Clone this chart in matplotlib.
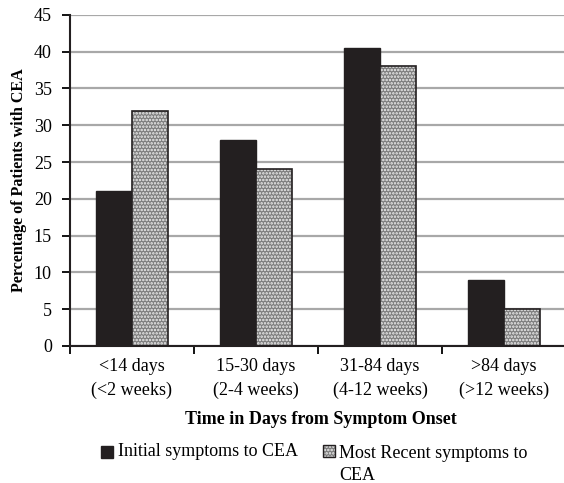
import numpy as np
import matplotlib.pyplot as plt
from matplotlib.patches import Rectangle

plt.rcParams['font.family'] = ['Liberation Serif', 'DejaVu Serif']
plt.rcParams['hatch.linewidth'] = 1.2

categories = ['<14 days\n(<2 weeks)', '15-30 days\n(2-4 weeks)',
              '31-84 days\n(4-12 weeks)', '>84 days\n(>12 weeks)']
initial = [21, 28, 40.5, 9]
recent = [32, 24, 38, 5]
series_names = ['Initial symptoms to CEA', 'Most Recent symptoms to\nCEA']

dark = '#231f20'
patt_face = '#7c7c7c'
patt_hatch = '.....'

x = np.arange(len(categories))
w = 0.29

fig = plt.figure(figsize=(5.64, 4.83), dpi=100)
ax = fig.add_axes([0.124, 0.284, 0.88, 0.685])

ax.set_axisbelow(True)
ax.yaxis.grid(True, color='#a8a8a8', linewidth=1.6)

ax.bar(x - w / 2, initial, w, color=dark, edgecolor=dark, linewidth=1)
# patterned bars: gray fill with white dot hatch, then dark outline on top
ax.bar(x + w / 2, recent, w, color=patt_face, edgecolor='#f0f0f0', hatch=patt_hatch, linewidth=0)
ax.bar(x + w / 2, recent, w, fill=False, edgecolor=dark, linewidth=1.2)

ax.set_xlim(-0.5, len(categories) - 0.5)
ax.set_ylim(0, 45)
ax.set_yticks(range(0, 46, 5))
ax.set_xticks(x)
ax.set_xticklabels(categories, fontsize=13, linespacing=1.45)
ax.set_xticks(np.arange(-0.5, len(categories) - 0.5, 1), minor=True)
ax.tick_params(axis='x', which='major', length=0, pad=9)
ax.tick_params(axis='x', which='minor', length=6, width=1.3, direction='out')
ax.tick_params(axis='y', length=6, width=1.3, direction='out', labelsize=13, pad=7)

for s in ['top', 'right']:
    ax.spines[s].set_visible(False)
for s in ['left', 'bottom']:
    ax.spines[s].set_linewidth(1.5)
    ax.spines[s].set_color(dark)

ax.set_ylabel('Percentage of Patients with CEA', fontsize=11.5, fontweight='bold', labelpad=5)
fig.text(321 / 564, 1 - 420 / 483, 'Time in Days from Symptom Onset', fontsize=13,
         fontweight='bold', ha='center', va='center')

# legend drawn by hand to keep the square level with the first text line
fs = 13
sq = 12 / 564
fig.patches.append(Rectangle((101 / 564, 1 - 458 / 483), sq, 12 / 483,
                             transform=fig.transFigure, facecolor=dark, edgecolor=dark))
fig.text(118 / 564, 1 - 452 / 483, series_names[0], fontsize=fs, va='center', ha='left')
fig.patches.append(Rectangle((323 / 564, 1 - 457 / 483), sq, 12 / 483,
                             transform=fig.transFigure, facecolor=patt_face,
                             edgecolor='#f0f0f0', hatch=patt_hatch, linewidth=0))
fig.patches.append(Rectangle((323 / 564, 1 - 457 / 483), sq, 12 / 483,
                             transform=fig.transFigure, fill=False, edgecolor=dark, linewidth=1))
fig.text(339 / 564, 1 - 445 / 483, series_names[1], fontsize=fs, va='top', ha='left',
         linespacing=1.35)

fig.savefig('out.png', dpi=100)
